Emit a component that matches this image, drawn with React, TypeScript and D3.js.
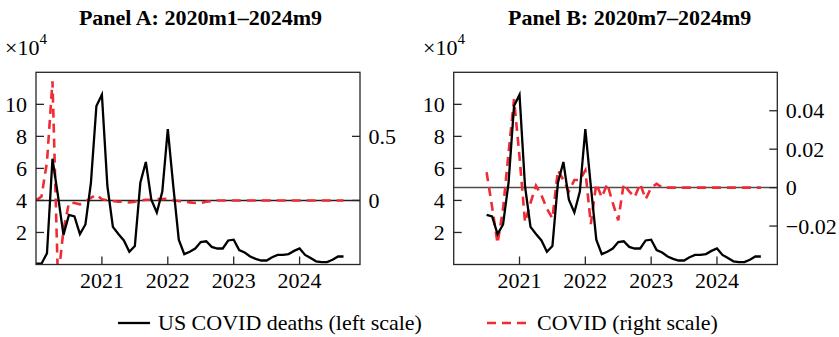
import React from "react";
import * as d3 from "d3";

// Monthly data, 2020m1 .. 2024m9 (57 months)
const startYear = 2020;
const yearTicks = [2021, 2022, 2023, 2024];

// US COVID deaths, units of 10^4
const deaths = [
  0.05, 0.05, 0.7, 6.6, 4.3, 1.85, 3.1, 3.0, 1.9, 2.5, 5.1, 9.9,
  10.6, 4.9, 2.35, 1.9, 1.5, 0.8, 1.15, 5.1, 6.4, 4.05, 3.25, 4.55,
  8.45, 4.9, 1.55, 0.65, 0.8, 1.0, 1.4, 1.45, 1.1, 1.0, 1.0, 1.5,
  1.55, 0.9, 0.75, 0.5, 0.35, 0.25, 0.25, 0.45, 0.6, 0.6, 0.65, 0.85,
  1.0, 0.6, 0.4, 0.2, 0.15, 0.15, 0.3, 0.5, 0.5,
];

// COVID (right scale), panel A: 2020m1 .. 2024m9
const covidA = [
  0, 0.03, 0.3, 0.93, -0.63, -0.23, -0.02, -0.02, -0.03, -0.01, 0.02, 0.045,
  0.01, 0.0, -0.005, -0.01, -0.01, -0.015, -0.01, 0.0, 0.005, 0.005, 0.01, 0.01,
  0.015, 0.0, -0.005, -0.01, -0.015, -0.02, -0.02, -0.01, -0.005, 0, 0, 0,
  0, 0, 0, 0, 0, 0, 0, 0, 0, 0, 0, 0,
  0, 0, 0, 0, 0, 0, 0, 0, 0,
];

// COVID (right scale), panel B: 2020m7 .. 2024m9
const covidBStart = 6;
const covidB = [
  0.008, -0.01, -0.029, -0.011, 0.018, 0.046,
  0.016, -0.018, -0.008, 0.001, -0.004, -0.011, -0.016, 0.009, 0.004, -0.002, 0.004, 0.004,
  0.009, -0.019, 0.002, -0.005, 0.002, -0.008, -0.017, 0.002, -0.002, -0.005, 0.002, -0.006,
  0.0, 0.002, 0, 0, 0, 0, 0, 0, 0, 0, 0, 0,
  0, 0, 0, 0, 0, 0, 0, 0, 0,
];

const leftTicks = [2, 4, 6, 8, 10];
const rightTicksA = [0, 0.5];
const rightTickLabelsA = ["0", "0.5"];
const rightTicksB = [-0.02, 0, 0.02, 0.04];
const rightTickLabelsB = ["\u22120.02", "0", "0.02", "0.04"];

const FONT = "'Liberation Serif', 'Times New Roman', Times, serif";
const RED = "#ef2b33";

type PanelProps = {
  id: string;
  title: string;
  titleX: number;
  left: number;
  right: number;
  expX: number;
  rightDomain: [number, number];
  rightTicks: number[];
  rightLabels: string[];
  covid: number[];
  covidStart: number;
  deathsStart: number;
  zeroColor: string;
};

const TOP = 72.3;
const BOTTOM = 264.5;

function Panel(p: PanelProps) {
  const x = d3
    .scaleLinear()
    .domain([startYear, startYear + 59 / 12])
    .range([p.left, p.right]);
  const yL = d3.scaleLinear().domain([0, 12]).range([BOTTOM, TOP]);
  const yR = d3.scaleLinear().domain(p.rightDomain).range([BOTTOM, TOP]);
  const t = (i: number) => startYear + i / 12;

  const deathLine = d3
    .line<number>()
    .x((_, i) => x(t(i + p.deathsStart)))
    .y((d) => yL(d));
  const covidLine = d3
    .line<number>()
    .x((_, i) => x(t(i + p.covidStart)))
    .y((d) => yR(d));

  const tick = 8;
  return (
    <g>
      <defs>
        <clipPath id={`clip-${p.id}`}>
          <rect x={p.left} y={TOP} width={p.right - p.left} height={BOTTOM - TOP} />
        </clipPath>
      </defs>
      <text
        x={p.titleX}
        y={25}
        textAnchor="middle"
        fontFamily={FONT}
        fontWeight="bold"
        fontSize={22}
      >
        {p.title}
      </text>
      <text x={p.expX} y={55} fontFamily={FONT} fontSize={22}>
        ×10
        <tspan fontSize={15} dy={-11.5}>
          4
        </tspan>
      </text>
      {/* zero line of right axis */}
      <line
        x1={p.left}
        x2={p.right}
        y1={yR(0)}
        y2={yR(0)}
        stroke={p.zeroColor}
        strokeWidth={1.5}
      />
      <g clipPath={`url(#clip-${p.id})`}>
        <path
          d={covidLine(p.covid) || ""}
          fill="none"
          stroke={RED}
          strokeWidth={2.6}
          strokeDasharray="9 6"
        />
        <path
          d={deathLine(deaths.slice(p.deathsStart)) || ""}
          fill="none"
          stroke="#000"
          strokeWidth={2.3}
        />
      </g>
      {/* frame */}
      <rect
        x={p.left}
        y={TOP}
        width={p.right - p.left}
        height={BOTTOM - TOP}
        fill="none"
        stroke="#262626"
        strokeWidth={1.3}
      />
      {/* left ticks */}
      {leftTicks.map((v) => (
        <g key={`l${v}`}>
          <line x1={p.left} x2={p.left + tick} y1={yL(v)} y2={yL(v)} stroke="#262626" strokeWidth={1.3} />
          <text
            x={p.left - 9}
            y={yL(v)}
            dy="0.34em"
            textAnchor="end"
            fontFamily={FONT}
            fontSize={22}
          >
            {v}
          </text>
        </g>
      ))}
      {/* right ticks */}
      {p.rightTicks.map((v, i) => (
        <g key={`r${v}`}>
          <line x1={p.right - tick} x2={p.right} y1={yR(v)} y2={yR(v)} stroke="#262626" strokeWidth={1.3} />
          <text
            x={p.right + 8.5}
            y={yR(v)}
            dy="0.34em"
            textAnchor="start"
            fontFamily={FONT}
            fontSize={22}
          >
            {p.rightLabels[i]}
          </text>
        </g>
      ))}
      {/* bottom ticks */}
      {yearTicks.map((yr) => (
        <g key={`x${yr}`}>
          <line x1={x(yr)} x2={x(yr)} y1={BOTTOM} y2={BOTTOM - tick} stroke="#262626" strokeWidth={1.3} />
          <text x={x(yr)} y={288} textAnchor="middle" fontFamily={FONT} fontSize={22}>
            {yr}
          </text>
        </g>
      ))}
    </g>
  );
}

export default function App() {
  return (
    <svg
      width={839}
      height={337}
      viewBox="0 0 839 337"
      style={{ position: "absolute", left: 0, top: 0, background: "#fff" }}
    >
      <rect x={0} y={0} width={839} height={337} fill="#fff" />
      <Panel
        id="a"
        title="Panel A: 2020m1–2024m9"
        titleX={200.5}
        left={36}
        right={360}
        expX={5}
        rightDomain={[-0.5, 1]}
        rightTicks={rightTicksA}
        rightLabels={rightTickLabelsA}
        covid={covidA}
        covidStart={0}
        deathsStart={0}
        zeroColor="#222"
      />
      <Panel
        id="b"
        title="Panel B: 2020m7–2024m9"
        titleX={629.7}
        left={453.7}
        right={777.3}
        expX={423}
        rightDomain={[-0.04, 0.06]}
        rightTicks={rightTicksB}
        rightLabels={rightTickLabelsB}
        covid={covidB}
        covidStart={covidBStart}
        deathsStart={covidBStart}
        zeroColor="#4d4d4d"
      />
      {/* legend */}
      <line x1={118} x2={150} y1={323} y2={323} stroke="#000" strokeWidth={2.3} />
      <text x={158} y={330} fontFamily={FONT} fontSize={22}>
        US COVID deaths (left scale)
      </text>
      <line
        x1={487}
        x2={529}
        y1={323}
        y2={323}
        stroke={RED}
        strokeWidth={2.6}
        strokeDasharray="9 6"
      />
      <text x={537} y={330} fontFamily={FONT} fontSize={22}>
        COVID (right scale)
      </text>
    </svg>
  );
}
